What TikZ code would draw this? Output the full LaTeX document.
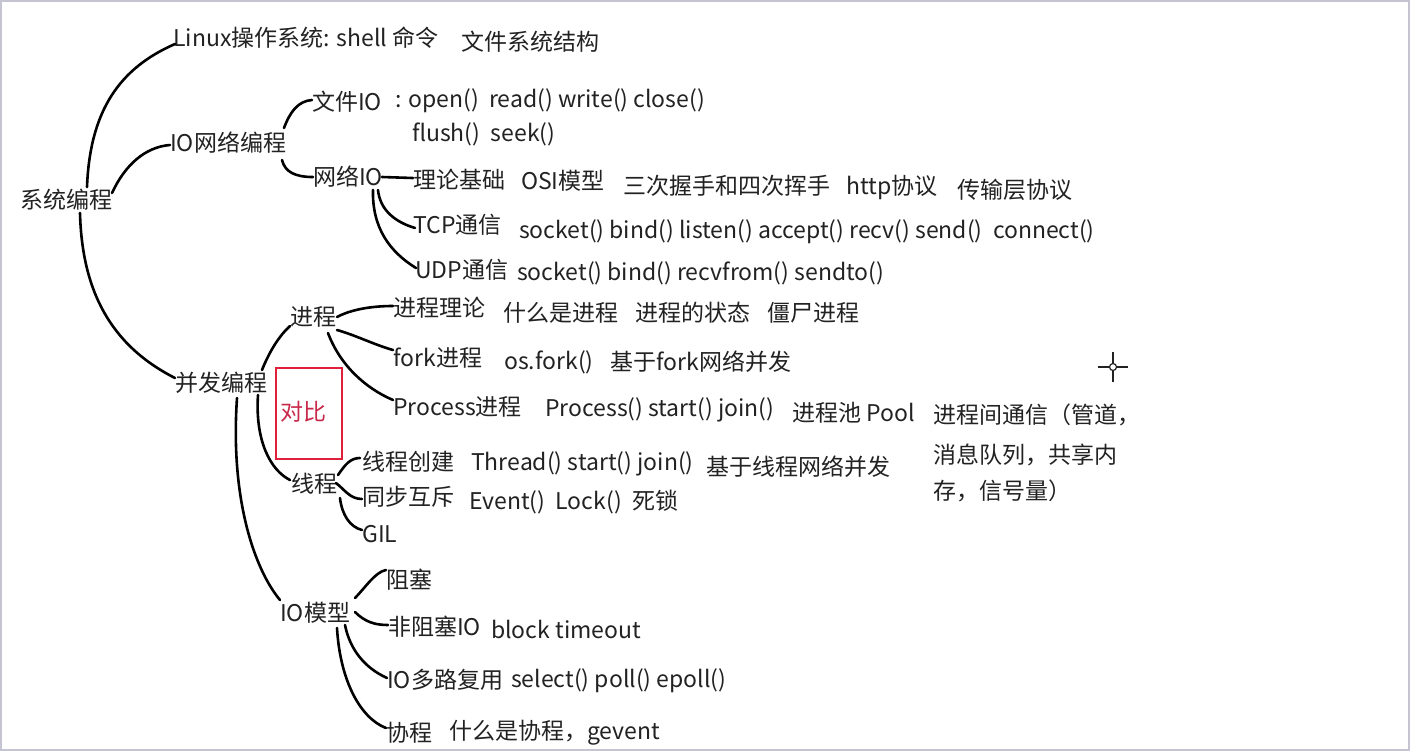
\documentclass[tikz,border=0pt]{standalone}
\usepackage{fontspec}
\setmainfont{Noto Sans CJK SC}
\definecolor{ink}{HTML}{222222}
\definecolor{boxred}{HTML}{E0203A}
\definecolor{cmpred}{HTML}{C8284A}
\definecolor{framegray}{HTML}{C4C4D2}
\begin{document}
\begin{tikzpicture}[x=1pt,y=-1pt,
  t/.style={anchor=west, inner sep=0pt, text=ink, font=\fontsize{23}{26}\selectfont},
  ln/.style={line width=2.6pt, line cap=round, draw=black},
  frame/.style={draw=framegray, line width=2pt}]
\fill[white] (0,0) rectangle (1414,753);
\useasboundingbox (0,0) rectangle (1414,753);
\draw[frame] (1,1) rectangle (1409,750);

% level 0/1
\node[t] (sys) at (20,200) {系统编程};
\node[t] (linux) at (173,38) {Linux操作系统: shell 命令};
\node[t] (fsys) at (461,42) {文件系统结构};
\node[t] (ionet) at (170,143) {IO网络编程};
\node[t] (conc) at (175,383) {并发编程};

% IO network
\node[t] (fileio) at (312,102) {文件IO};
\node[t] (fileops) at (395,101) {: open()\ \ read() write() close()};
\node[t] (flush) at (412,134) {flush()\ \ seek()};
\node[t] (netio) at (313,177) {网络IO};
\node[t] (theory) at (413,180) {理论基础};
\node[t] (osi) at (521,181) {OSI模型};
\node[t] (hand) at (623,186) {三次握手和四次挥手};
\node[t] (http) at (846,187) {http协议};
\node[t] (trans) at (957,190) {传输层协议};
\node[t] (tcp) at (413,225) {TCP通信};
\node[t] (tcpops) at (519,232) {socket() bind() listen() accept() recv() send()\ \ connect()};
\node[t] (udp) at (415,270) {UDP通信};
\node[t] (udpops) at (517,273) {socket() bind() recvfrom() sendto()};

% processes
\node[t] (proc) at (290,317) {进程};
\node[t] (ptheory) at (393,308) {进程理论};
\node[t] (what) at (503,313) {什么是进程};
\node[t] (state) at (635,313) {进程的状态};
\node[t] (zombie) at (767,313) {僵尸进程};
\node[t] (fork) at (393,358) {fork进程};
\node[t] (osfork) at (504,362) {os.fork()};
\node[t] (forknet) at (610,362) {基于fork网络并发};
\node[t] (process) at (393,407) {Process进程};
\node[t] (procops) at (545,410) {Process() start() join()};
\node[t] (pool) at (792,413) {进程池 Pool};
\node[t] (ipc1) at (933,415) {进程间通信（管道，};
\node[t] (ipc2) at (933,455) {消息队列，共享内};
\node[t] (ipc3) at (933,491) {存，信号量）};

% compare box
\node[draw=boxred, line width=2.4pt, minimum width=66pt, minimum height=91pt, inner sep=0pt] (cmp) at (309,413.5) {};
\node[inner sep=0pt, text=cmpred, font=\fontsize{23}{26}\selectfont] (cmpt) at (303,412) {对比};

% threads
\node[t] (thr) at (291,484) {线程};
\node[t] (tcreate) at (362,462) {线程创建};
\node[t] (tops) at (471,464) {Thread() start() join()};
\node[t] (tnet) at (706,467) {基于线程网络并发};
\node[t] (sync) at (362,497) {同步互斥};
\node[t] (syncops) at (469,502) {Event()\ \ Lock()\ \ 死锁};
\node[t] (gil) at (362,534) {GIL};

% IO model
\node[t] (iom) at (280,613) {IO模型};
\node[t] (block) at (386,580) {阻塞};
\node[t] (nonblock) at (388,627) {非阻塞IO};
\node[t] (btime) at (491,629) {block timeout};
\node[t] (mux) at (387,680) {IO多路复用};
\node[t] (muxops) at (511,681) {select() poll() epoll()};
\node[t] (coro) at (386,733) {协程};
\node[t] (corow) at (449,733) {什么是协程，gevent};

% connectors
\draw[ln] ([shift={(67,-13)}]sys.west) .. controls (90,110) and (120,68) .. ([shift={(2,6)}]linux.west);
\draw[ln] ([shift={(92,-7)}]sys.west) .. controls (125,165) and (145,147) .. ([shift={(0,2)}]ionet.west);
\draw[ln] ([shift={(60,13)}]sys.west) .. controls (82,290) and (110,345) .. ([shift={(0,-5)}]conc.west);

\draw[ln] ([shift={(114,-15)}]ionet.west) .. controls (290,112) and (298,101) .. ([shift={(0,-2)}]fileio.west);
\draw[ln] ([shift={(112,17)}]ionet.west) .. controls (285,172) and (295,177) .. (netio.west);
\draw[ln] ([shift={(69,0)}]netio.west) -- ([shift={(0,-2)}]theory.west);
\draw[ln] ([shift={(65,13)}]netio.west) .. controls (380,210) and (395,222) .. ([shift={(2,3)}]tcp.west);
\draw[ln] ([shift={(60,13)}]netio.west) .. controls (372,228) and (390,252) .. ([shift={(1,-2)}]udp.west);

\draw[ln] ([shift={(87,-13)}]conc.west) .. controls (270,350) and (280,335) .. ([shift={(0,9)}]proc.west);
\draw[ln] ([shift={(83,12)}]conc.west) .. controls (255,440) and (270,470) .. ([shift={(-1,-4)}]thr.west);
\draw[ln] ([shift={(62,15)}]conc.west) .. controls (230,500) and (255,570) .. ([shift={(0,-13)}]iom.west);

\draw[ln] ([shift={(47,0)}]proc.west) .. controls (350,310) and (370,306) .. ([shift={(0,-2)}]ptheory.west);
\draw[ln] ([shift={(47,13)}]proc.west) .. controls (355,335) and (375,345) .. ([shift={(0,-8)}]fork.west);
\draw[ln] ([shift={(38,16)}]proc.west) .. controls (340,365) and (365,388) .. ([shift={(0,-7)}]process.west);

\draw[ln] ([shift={(47,-9)}]thr.west) .. controls (345,465) and (350,458) .. ([shift={(-2,-4)}]tcreate.west);
\draw[ln] ([shift={(45,-1)}]thr.west) .. controls (345,490) and (350,499) .. ([shift={(0,2)}]sync.west);
\draw[ln] ([shift={(49,14)}]thr.west) .. controls (342,515) and (350,527) .. ([shift={(0,-4)}]gil.west);

\draw[ln] ([shift={(75,-15)}]iom.west) .. controls (365,588) and (375,572) .. ([shift={(0,-10)}]block.west);
\draw[ln] ([shift={(75,-1)}]iom.west) .. controls (365,622) and (375,625) .. ([shift={(0,-2)}]nonblock.west);
\draw[ln] ([shift={(65,12)}]iom.west) .. controls (350,650) and (365,668) .. ([shift={(0,-2)}]mux.west);
\draw[ln] ([shift={(57,15)}]iom.west) .. controls (340,680) and (360,718) .. ([shift={(0,-5)}]coro.west);

% cursor crosshair
\draw[line width=1.2pt, ink] (1113,367) circle (3.5);
\draw[line width=1.2pt, ink] (1098,367) -- (1109.5,367) (1116.5,367) -- (1128,367)
  (1113,352) -- (1113,363.5) (1113,370.5) -- (1113,382);
\end{tikzpicture}
\end{document}
